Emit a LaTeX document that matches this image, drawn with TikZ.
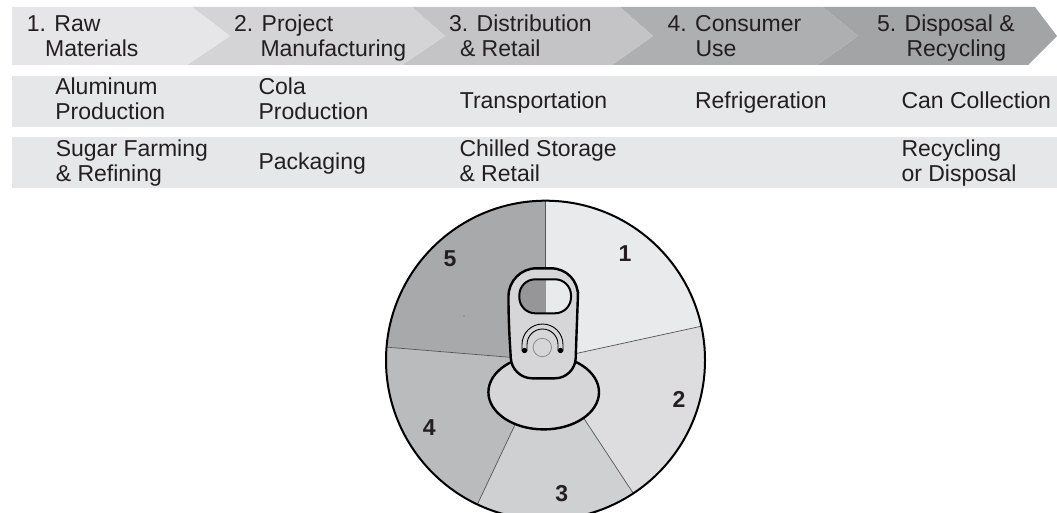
\documentclass[tikz,border=0pt]{standalone}
\usepackage{fontspec}
\setmainfont{Liberation Sans}
\definecolor{txt}{RGB}{35,31,32}
\definecolor{bA}{RGB}{230,230,232}
\definecolor{bB}{RGB}{212,212,214}
\definecolor{bC}{RGB}{196,196,198}
\definecolor{bD}{RGB}{174,175,177}
\definecolor{bE}{RGB}{163,164,166}
\definecolor{rowc}{RGB}{230,231,232}
\definecolor{sA}{RGB}{233,234,236}
\definecolor{sB}{RGB}{221,221,223}
\definecolor{sC}{RGB}{207,208,210}
\definecolor{sD}{RGB}{186,187,189}
\definecolor{sE}{RGB}{168,169,171}
\definecolor{tabc}{RGB}{214,214,216}
\definecolor{holedark}{RGB}{150,150,153}
\definecolor{sepc}{RGB}{85,85,85}
\definecolor{ringc}{RGB}{140,140,140}
\tikzset{
  lbl/.style={anchor=base west, inner sep=0pt, outer sep=0pt, text=txt, font=\fontsize{23}{25}\selectfont},
  num/.style={anchor=center, inner sep=0pt, text=txt, font=\fontsize{23}{25}\selectfont\bfseries},
  sepline/.style={draw=sepc, line width=0.7pt},
  tabst/.style={draw=black, line width=2.4pt, fill=tabc},
  archst/.style={draw=black, line width=0.9pt},
}
\begin{document}
\begin{tikzpicture}[x=1pt, y=-1pt]
\useasboundingbox (0,0) rectangle (1057,513);
\fill[white] (0,0) rectangle (1057,513);
% banner chevrons
\fill[bE] (823,7) -- (1035,7) -- (1057,36) -- (1028,65) -- (817,65) -- (858,36) -- cycle;
\fill[bD] (620,7) -- (823,7) -- (858,36) -- (817,65) -- (612,65) -- (653,36) -- cycle;
\fill[bC] (412,7) -- (620,7) -- (653,36) -- (612,65) -- (402,65) -- (445,36) -- cycle;
\fill[bB] (192,7) -- (412,7) -- (445,36) -- (402,65) -- (187,65) -- (230,36) -- cycle;
\fill[bA] (12,7) -- (192,7) -- (230,36) -- (187,65) -- (12,65) -- cycle;
% rows
\fill[rowc] (12,76) rectangle (1057,126.7);
\fill[rowc] (12,136.7) rectangle (1057,188.3);
% banner texts
\node[lbl] (h1a) at (26.8,31.7) {1. Raw};
\node[lbl] (h1b) at (45.2,56.7) {Materials};
\node[lbl] (h2a) at (234,31.7) {2. Project};
\node[lbl] (h2b) at (260.5,56.7) {Manufacturing};
\node[lbl] (h3a) at (449,31.7) {3. Distribution};
\node[lbl] (h3b) at (460,56.7) {\& Retail};
\node[lbl] (h4a) at (667.5,31.7) {4. Consumer};
\node[lbl] (h4b) at (695.5,56.7) {Use};
\node[lbl] (h5a) at (877,31.7) {5. Disposal \&};
\node[lbl] (h5b) at (906.5,56.7) {Recycling};
% row texts
\node[lbl] (r1a) at (55.3,95) {Aluminum};
\node[lbl] (r1b) at (55.3,120) {Production};
\node[lbl] (r2a) at (55.8,157) {Sugar Farming};
\node[lbl] (r2b) at (55.8,181.5) {\& Refining};
\node[lbl] (r3a) at (258.5,95) {Cola};
\node[lbl] (r3b) at (258.5,120) {Production};
\node[lbl] (r4a) at (258.5,170) {Packaging};
\node[lbl] (r5a) at (459.8,108.3) {Transportation};
\node[lbl] (r6a) at (459.5,157) {Chilled Storage};
\node[lbl] (r6b) at (459.5,181.5) {\& Retail};
\node[lbl] (r7a) at (695,108.3) {Refrigeration};
\node[lbl] (r8a) at (901.5,108.3) {Can Collection};
\node[lbl] (r9a) at (901.5,157) {Recycling};
\node[lbl] (r9b) at (901.5,181.5) {or Disposal};
% pie
\coordinate (C) at (545.5,360.2);
\def\R{159.5}
\fill[sA] (C) -- ++(-12.3:\R) arc[start angle=-12.3, end angle=-90, radius=\R] -- cycle;
\fill[sE] (C) -- ++(-90:\R) arc[start angle=-90, end angle=-175.3, radius=\R] -- cycle;
\fill[sD] (C) -- ++(-175.3:\R) arc[start angle=-175.3, end angle=-244.7, radius=\R] -- cycle;
\fill[sC] (C) -- ++(-244.7:\R) arc[start angle=-244.7, end angle=-303.4, radius=\R] -- cycle;
\fill[sB] (C) -- ++(-303.4:\R) arc[start angle=-303.4, end angle=-372.3, radius=\R] -- cycle;
\draw[sepline] (C) -- ++(-12.3:\R);
\draw[sepline] (C) -- ++(-90:\R);
\draw[sepline] (C) -- ++(-175.3:\R);
\draw[sepline] (C) -- ++(-244.7:\R);
\draw[sepline] (C) -- ++(-303.4:\R);
\fill[sepc] (464,316) circle (0.6);
\draw[black, line width=2pt] (C) circle (\R);
% pull tab
\draw[tabst] (543.7,392.2) ellipse [x radius=55.3, y radius=37.2];
\draw[tabst, rounded corners=28] (508.5,320) -- (508.5,268.3) -- (579,268.3) -- (577,320) [rounded corners=20] -- (575,378.3) -- (512,378.3) -- cycle;
\begin{scope}
  \clip[rounded corners=16] (519.3,279.3) rectangle (571,313.3);
  \fill[holedark] (519.3,279.3) rectangle (545.5,313.3);
  \fill[sA] (545.5,279.3) rectangle (571,313.3);
\end{scope}
\draw[black, line width=2pt, rounded corners=16] (519.3,279.3) rectangle (571,313.3);
\draw[archst] (522,351) -- (522,344.5) arc[start angle=180, end angle=360, radius=20.5] -- (563,351);
\draw[archst] (527,351) -- (527,344.5) arc[start angle=180, end angle=360, radius=15.5] -- (558,351);
\fill[black] (524.5,350.5) circle (2.7);
\fill[black] (560.5,350.5) circle (2.7);
\draw[ringc, line width=0.8pt] (542.3,347.5) circle (9.2);
% sector numbers
\node[num] (n1) at (625,253.3) {1};
\node[num] (n2) at (679,399.3) {2};
\node[num] (n3) at (561.7,493.3) {3};
\node[num] (n4) at (429.3,427.3) {4};
\node[num] (n5) at (450,258.3) {5};
\end{tikzpicture}
\end{document}
